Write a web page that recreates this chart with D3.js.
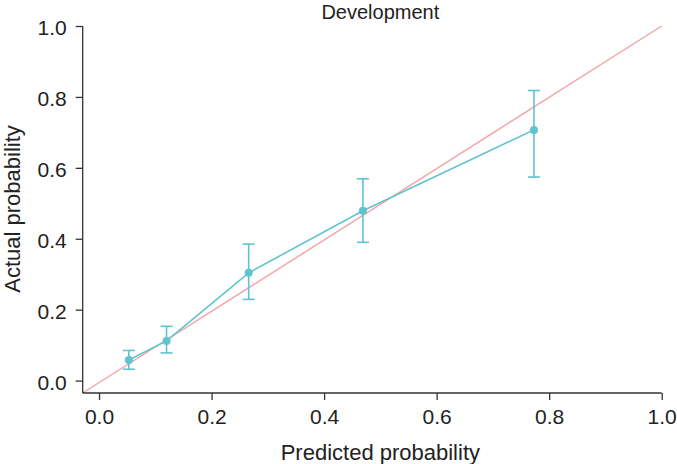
<!DOCTYPE html>
<html>
<head>
<meta charset="utf-8">
<script src="https://cdn.jsdelivr.net/npm/d3@7"></script>
<style>
  body { margin: 0; background: #fff; }
  svg { font-family: "Liberation Sans", Arial, sans-serif; }
</style>
</head>
<body>
<svg id="chart" width="677" height="464"></svg>
<script>
// calibration points
var predicted = [0.053, 0.120, 0.266, 0.469, 0.773];
var actual    = [0.058, 0.112, 0.304, 0.479, 0.707];
var lower     = [0.032, 0.078, 0.229, 0.390, 0.574];
var upper     = [0.085, 0.153, 0.385, 0.569, 0.818];
var tickValues = [0, 0.2, 0.4, 0.6, 0.8, 1.0];
var title = "Development";

var svg = d3.select("#chart");
var teal = "#5ec4cf", pink = "#f3a3a5", axisColor = "#333";

// plot area
var x = d3.scaleLinear().domain([-0.029, 1]).range([82.7, 661.7]);
var y = d3.scaleLinear().domain([-0.035, 1]).range([393, 26]);

var pts = predicted.map(function (d, i) {
    return {x: d, y: actual[i], lo: lower[i], hi: upper[i]};
});

// reference diagonal
svg.append("line")
    .attr("x1", x(-0.029)).attr("y1", y(-0.035))
    .attr("x2", x(1)).attr("y2", y(1))
    .style("stroke", pink).style("stroke-width", 1.4);

// axes
var xAxis = d3.axisBottom(x).tickValues(tickValues).tickFormat(d3.format(".1f")).tickSizeOuter(0).tickSize(7).tickPadding(9);
var yAxis = d3.axisLeft(y).tickValues(tickValues).tickFormat(d3.format(".1f")).tickSizeOuter(0).tickSize(7).tickPadding(9);

var gx = svg.append("g").attr("transform", "translate(0,393)").call(xAxis);
var gy = svg.append("g").attr("transform", "translate(82.7,0)").call(yAxis);
// axis lines span the whole frame
gx.select(".domain").attr("d", "M" + x.range()[0] + ",0H" + x.range()[1]);
gy.select(".domain").attr("d", "M0," + y.range()[0] + "V" + y.range()[1]);
[gx, gy].forEach(function (g) {
    g.selectAll("path,line").style("stroke", axisColor).style("stroke-width", 1.3);
    g.selectAll("text").style("font-size", "21px").style("fill", "#222")
        .style("font-family", "'Liberation Sans', Arial, sans-serif");
});
gy.selectAll("text").attr("dy", "0.42em");

// error bars
var cap = 6;
var bars = svg.append("g").selectAll(".err").data(pts).enter().append("g").attr("class", "err")
    .style("stroke", teal).style("stroke-width", 1.6);
bars.append("line").attr("x1", function (d) { return x(d.x); }).attr("x2", function (d) { return x(d.x); })
    .attr("y1", function (d) { return y(d.lo); }).attr("y2", function (d) { return y(d.hi); });
bars.append("line").attr("x1", function (d) { return x(d.x) - cap; }).attr("x2", function (d) { return x(d.x) + cap; })
    .attr("y1", function (d) { return y(d.hi); }).attr("y2", function (d) { return y(d.hi); });
bars.append("line").attr("x1", function (d) { return x(d.x) - cap; }).attr("x2", function (d) { return x(d.x) + cap; })
    .attr("y1", function (d) { return y(d.lo); }).attr("y2", function (d) { return y(d.lo); });

// connecting line and points
svg.append("path").datum(pts)
    .attr("d", d3.line().x(function (d) { return x(d.x); }).y(function (d) { return y(d.y); }))
    .style("fill", "none").style("stroke", teal).style("stroke-width", 1.6);
svg.selectAll(".pt").data(pts).enter().append("circle").attr("class", "pt")
    .attr("cx", function (d) { return x(d.x); }).attr("cy", function (d) { return y(d.y); })
    .attr("r", 4).style("fill", teal);

// titles
svg.append("text").attr("x", x(0.5)).attr("y", 18.5).attr("text-anchor", "middle")
    .style("font-size", "20px").style("fill", "#222").text(title);
svg.append("text").attr("x", x(0.5)).attr("y", 459.5).attr("text-anchor", "middle")
    .style("font-size", "22px").style("fill", "#222").text("Predicted probability");
svg.append("text").attr("transform", "translate(20,209) rotate(-90)").attr("text-anchor", "middle")
    .style("font-size", "22px").style("fill", "#222").text("Actual probability");
</script>
</body>
</html>
